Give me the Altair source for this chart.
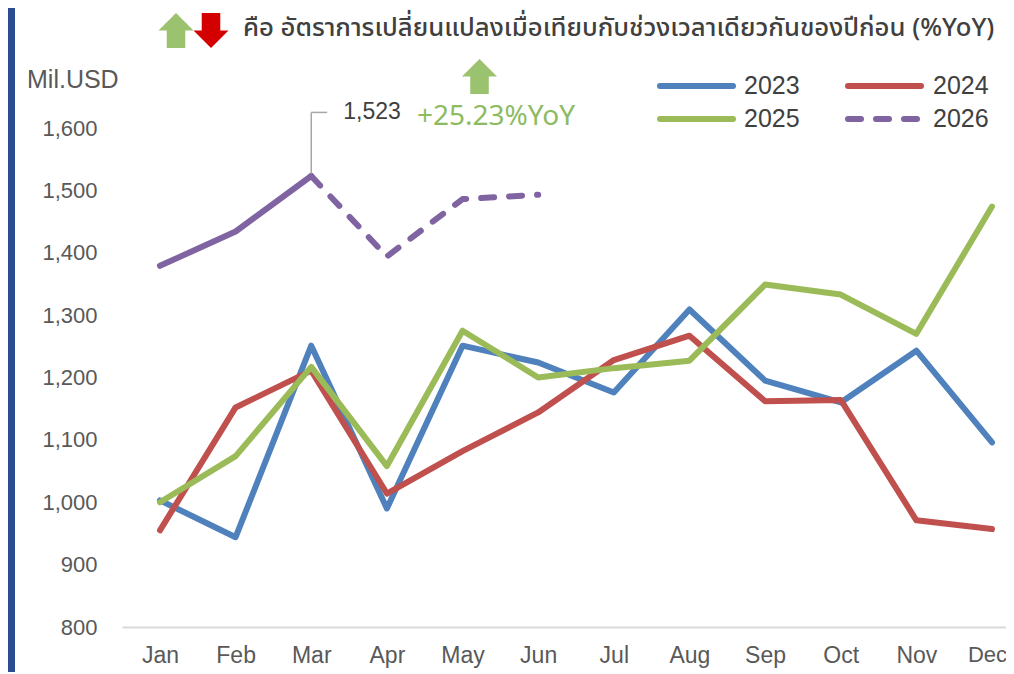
import json
import altair as alt
import pandas as pd

MONTHS = ["Jan", "Feb", "Mar", "Apr", "May", "Jun", "Jul", "Aug", "Sep", "Oct", "Nov", "Dec"]
YEARS = ["2023", "2024", "2025", "2026"]
V2023 = [1003, 944, 1251, 990, 1251, 1224, 1176, 1309, 1195, 1160, 1243, 1096]
V2024 = [955, 1152, 1211, 1014, 1082, 1144, 1228, 1267, 1162, 1164, 971, 957]
V2025 = [1000, 1074, 1217, 1058, 1275, 1200, 1215, 1227, 1349, 1333, 1270, 1474]
V2026 = [1379, 1434, 1523, 1394, 1486, 1493]
COLORS = ["#4F81BD", "#C0504D", "#9BBB59", "#8064A2"]
Y_TICKS = [800, 900, 1000, 1100, 1200, 1300, 1400, 1500, 1600]
PEAK_MONTH = "Mar"
PEAK_VALUE = 1523
HEADER = "คือ อัตราการเปลี่ยนแปลงเมื่อเทียบกับช่วงเวลาเดียวกันของปีก่อน (%YoY)"
YOY_TEXT = "+25.23%YoY"
UNIT = "Mil.USD"

NARROW = "Liberation Sans Narrow, Arial Narrow, Liberation Sans, sans-serif"
THAI = "Noto Sans Thai, Noto Sans Thai Looped, Kanit, Noto Sans, sans-serif"
GRAY = "#595959"

series = {"2023": V2023, "2024": V2024, "2025": V2025, "2026": V2026}
rows_main, rows_dash = [], []
for y, vals in series.items():
    for i, v in enumerate(vals):
        if y == "2026":
            if i <= 2:
                rows_main.append({"year": y, "m": i, "v": v})
            if i >= 2:
                rows_dash.append({"year": y, "m": i, "v": v})
        else:
            rows_main.append({"year": y, "m": i, "v": v})
df_main = pd.DataFrame(rows_main)
df_dash = pd.DataFrame(rows_dash)

W, H = 884, 499
xscale = alt.Scale(domain=[-0.502, 11.185], nice=False, zero=False)
yscale = alt.Scale(domain=[800, 1600], nice=False, zero=False)
cscale = alt.Scale(domain=YEARS, range=COLORS)

label_expr = json.dumps(MONTHS) + "[datum.value]"
last = len(MONTHS) - 1

X = alt.X("m:Q", scale=xscale,
          axis=alt.Axis(values=list(range(12)), labelExpr=label_expr, title=None,
                        ticks=False, grid=False, domainColor="#D9D9D9", domainWidth=2,
                        labelFontSize={"condition": {"test": f"datum.value == {last}", "value": 22}, "value": 23},
                        labelOffset={"condition": {"test": f"datum.value == {last}", "value": -5}, "value": 0},
                        labelColor=GRAY, labelFont=NARROW,
                        labelPadding=17, labelFlush=False))
Y = alt.Y("v:Q", scale=yscale,
          axis=alt.Axis(values=Y_TICKS, format=",d", title=None, ticks=False, grid=False,
                        domain=False, labelFontSize=22, labelColor=GRAY, labelFont=NARROW,
                        labelPadding=25))

lines = alt.Chart(df_main).mark_line(strokeWidth=6, strokeCap="round", strokeJoin="round").encode(
    x=X, y=Y,
    color=alt.Color("year:N", scale=cscale, legend=None),
    detail="year:N",
)
dashed = alt.Chart(df_dash).mark_line(strokeWidth=6, strokeCap="round", strokeJoin="round",
                                      strokeDash=[13, 15]).encode(
    x=alt.X("m:Q", scale=xscale), y=alt.Y("v:Q", scale=yscale),
    color=alt.Color("year:N", scale=cscale, legend=None),
)

# peak annotation (leader + label) anchored on the data point
peak_i = MONTHS.index(PEAK_MONTH)
one = pd.DataFrame({"a": [0]})
leader_top = PEAK_VALUE + 102
lead_v = alt.Chart(one).mark_rule(color="#A6A6A6", strokeWidth=1.5).encode(
    x=alt.datum(peak_i, scale=xscale), y=alt.datum(PEAK_VALUE + 4, scale=yscale),
    y2=alt.datum(leader_top))
lead_h = alt.Chart(one).mark_rule(color="#A6A6A6", strokeWidth=1.5).encode(
    x=alt.datum(peak_i, scale=xscale), x2=alt.datum(peak_i + 0.21),
    y=alt.datum(leader_top, scale=yscale))
peak_txt = alt.Chart(one).mark_text(align="left", baseline="middle", dx=32, fontSize=23,
                                    font=NARROW, color="#404040").encode(
    x=alt.datum(peak_i, scale=xscale), y=alt.datum(leader_top, scale=yscale),
    text=alt.value(f"{PEAK_VALUE:,}"))

# custom legend
leg_rows = []
for k, y in enumerate(YEARS):
    col, row = k % 2, k // 2
    leg_rows.append({"year": y, "x0": 538 + col * 188, "x1": 611 + col * 188,
                     "tx": 622 + col * 189, "ty": -42 + row * 33})
leg = pd.DataFrame(leg_rows)
leg_solid = alt.Chart(leg[leg.year != "2026"]).mark_rule(strokeWidth=6, strokeCap="round").encode(
    x=alt.X("x0:Q", scale=None), x2="x1:Q", y=alt.Y("ty:Q", scale=None),
    color=alt.Color("year:N", scale=cscale, legend=None))
leg_dash = alt.Chart(leg[leg.year == "2026"]).mark_rule(strokeWidth=6, strokeCap="round",
                                                        strokeDash=[13, 15]).encode(
    x=alt.X("x0:Q", scale=None), x2="x1:Q", y=alt.Y("ty:Q", scale=None),
    color=alt.Color("year:N", scale=cscale, legend=None))
leg_txt = alt.Chart(leg).mark_text(align="left", baseline="middle", fontSize=25, font=NARROW,
                                   color="#404040").encode(
    x=alt.X("tx:Q", scale=None), y=alt.Y("ty:Q", scale=None), text="year:N")

UP = "M0,-1 L1,0 L0.53,0 L0.53,1 L-0.53,1 L-0.53,0 L-1,0 Z"
DOWN = "M-0.53,-1 L0.53,-1 L0.53,0 L1,0 L0,1 L-1,0 L-0.53,0 Z"
arrow_up1 = alt.Chart(one).mark_point(shape=UP, filled=True, opacity=1, size=1225,
                                      color="#9BC26E", strokeWidth=0).encode(
    x=alt.value(54), y=alt.value(-97.5))
arrow_dn = alt.Chart(one).mark_point(shape=DOWN, filled=True, opacity=1, size=1225,
                                     color="#D40000", strokeWidth=0).encode(
    x=alt.value(89), y=alt.value(-97.5))
arrow_up2 = alt.Chart(one).mark_point(shape=UP, filled=True, opacity=1, size=1225,
                                      color="#9BC26E", strokeWidth=0).encode(
    x=alt.value(357.5), y=alt.value(-51.5))
header = alt.Chart(one).mark_text(align="left", baseline="middle", fontSize=25.7, font=THAI,
                                  fontWeight=500, color="#404040").encode(
    x=alt.value(121), y=alt.value(-100), text=alt.value(HEADER))
yoy = alt.Chart(one).mark_text(align="left", baseline="middle", fontSize=28, font=THAI,
                               color="#8DBB62").encode(
    x=alt.value(295), y=alt.value(-11), text=alt.value(YOY_TEXT))
unit = alt.Chart(one).mark_text(align="left", baseline="middle", fontSize=25, font=NARROW,
                                color=GRAY).encode(
    x=alt.value(-95), y=alt.value(-48), text=alt.value(UNIT))
bar = alt.Chart(one).mark_rect(color="#2B4C8F").encode(
    x=alt.value(-114), x2=alt.value(-107), y=alt.value(-120), y2=alt.value(H + 45))

chart = alt.layer(
    bar, lines, dashed, lead_v, lead_h, peak_txt, leg_solid, leg_dash, leg_txt,
    arrow_up1, arrow_dn, arrow_up2, header, yoy, unit,
).properties(
    width=W, height=H,
    padding={"left": 114, "top": 120, "right": 0, "bottom": 45},
    autosize=alt.AutoSizeParams(type="none"),
).configure_view(stroke=None)

chart.save("out.html", embed_options={"renderer": "svg", "actions": False})
